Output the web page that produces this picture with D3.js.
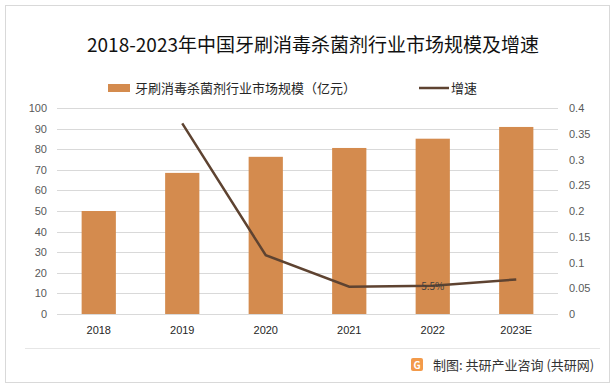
<!DOCTYPE html>
<html>
<head>
<meta charset="utf-8">
<script src="https://cdn.jsdelivr.net/npm/d3@7"></script>
<style>
  body { margin: 0; background: #fff; }
  svg text { font-family: "Noto Sans CJK SC", "Noto Sans", sans-serif; }
  svg .tick text { font-family: "Liberation Sans", Arial, sans-serif; }
</style>
</head>
<body>
<svg id="chart" width="615" height="387"></svg>
<script>
var years = ["2018", "2019", "2020", "2021", "2022", "2023E"];
var marketSize = [50, 68.5, 76.3, 80.6, 85.1, 90.8];
var growth = [null, 0.37, 0.114, 0.053, 0.055, 0.067];
var leftTicks = [0, 10, 20, 30, 40, 50, 60, 70, 80, 90, 100];
var rightTicks = [0, 0.05, 0.1, 0.15, 0.2, 0.25, 0.3, 0.35, 0.4];

var svg = d3.select("svg#chart");

// outer frame
svg.append("rect")
    .attr("x", 5.5).attr("y", 5.5)
    .attr("width", 604).attr("height", 377)
    .attr("fill", "#fff")
    .attr("stroke", "#d9d9d9");

var plotLeft = 57, plotRight = 558, plotTop = 108, plotBottom = 314;

var x = d3.scaleBand().domain(years).range([plotLeft, plotRight]).paddingInner(0.59).paddingOuter(0.295);
var y = d3.scaleLinear().domain([0, 100]).range([plotBottom, plotTop]);
var y2 = d3.scaleLinear().domain([0, 0.4]).range([plotBottom, plotTop]);

// gridlines
svg.append("g").selectAll("line")
    .data(leftTicks)
    .enter().append("line")
      .attr("x1", plotLeft).attr("x2", plotRight)
      .attr("y1", function(d) { return Math.round(y(d)) + 0.5; })
      .attr("y2", function(d) { return Math.round(y(d)) + 0.5; })
      .attr("stroke", "#d9d9d9");

// left axis
var yAxis = svg.append("g")
    .attr("transform", "translate(" + (plotLeft - 10) + ",0)")
    .call(d3.axisLeft(y).tickValues(leftTicks).tickSize(0).tickPadding(0));
yAxis.select(".domain").remove();
yAxis.selectAll("text").attr("font-size", 11).attr("fill", "#595959");

// right axis
var y2Axis = svg.append("g")
    .attr("transform", "translate(" + (plotRight + 11) + ",0)")
    .call(d3.axisRight(y2).tickValues(rightTicks).tickSize(0).tickPadding(0)
      .tickFormat(function(d) { return String(+d.toFixed(2)); }));
y2Axis.select(".domain").remove();
y2Axis.selectAll("text").attr("font-size", 11).attr("fill", "#595959");

// bottom axis
var xAxis = svg.append("g")
    .attr("transform", "translate(0," + (plotBottom + 12) + ")")
    .call(d3.axisBottom(x).tickSize(0).tickPadding(0));
xAxis.select(".domain").remove();
xAxis.selectAll("text").attr("font-size", 11).attr("fill", "#262626");

// bars
svg.append("g").selectAll("rect")
    .data(marketSize)
    .enter().append("rect")
      .attr("x", function(d, i) { return x(years[i]); })
      .attr("width", x.bandwidth())
      .attr("y", function(d) { return y(d); })
      .attr("height", function(d) { return y(0) - y(d); })
      .attr("fill", "#d48b4e");

// growth line
var line = d3.line()
    .defined(function(d) { return d != null; })
    .x(function(d, i) { return x(years[i]) + x.bandwidth() / 2; })
    .y(function(d) { return y2(d); });

svg.append("path")
    .datum(growth)
    .attr("d", line)
    .attr("fill", "none")
    .attr("stroke", "#5e4331")
    .attr("stroke-width", 2.5);

// only 2022 is labelled
svg.append("text")
    .attr("x", x("2022") + x.bandwidth() / 2)
    .attr("y", y2(growth[4]) + 4)
    .attr("text-anchor", "middle")
    .attr("font-size", 10)
    .attr("font-family", "Liberation Sans, Arial, sans-serif")
    .attr("fill", "#404040")
    .text(d3.format(".1%")(growth[4]));

// title
svg.append("text")
    .attr("x", 313).attr("y", 52)
    .attr("text-anchor", "middle")
    .attr("font-size", 19)
    .attr("fill", "#111")
    .text("2018-2023年中国牙刷消毒杀菌剂行业市场规模及增速");

// legend
var legend = svg.append("g").attr("font-size", 13);
legend.append("rect").attr("x", 108).attr("y", 84).attr("width", 22).attr("height", 8).attr("fill", "#d48b4e");
legend.append("text").attr("x", 135).attr("y", 93).attr("fill", "#262626").text("牙刷消毒杀菌剂行业市场规模（亿元）");
legend.append("line").attr("x1", 419).attr("x2", 449).attr("y1", 88).attr("y2", 88)
    .attr("stroke", "#5e4331").attr("stroke-width", 2.5);
legend.append("text").attr("x", 451).attr("y", 93).attr("fill", "#262626").text("增速");

// footer
svg.append("line")
    .attr("x1", 25).attr("x2", 600).attr("y1", 348.5).attr("y2", 348.5)
    .attr("stroke", "#e6e6e6");
var logo = svg.append("g").attr("transform", "translate(411,358)");
logo.append("rect").attr("width", 12).attr("height", 13).attr("rx", 2).attr("fill", "#f39a4a");
logo.append("text").attr("x", 6).attr("y", 10.5).attr("text-anchor", "middle")
    .attr("font-size", 10).attr("font-weight", "bold").attr("fill", "#fff").text("G");
svg.append("text")
    .attr("x", 433).attr("y", 369.5)
    .attr("font-size", 13)
    .attr("fill", "#333")
    .text("制图: 共研产业咨询 (共研网)");
</script>
</body>
</html>
